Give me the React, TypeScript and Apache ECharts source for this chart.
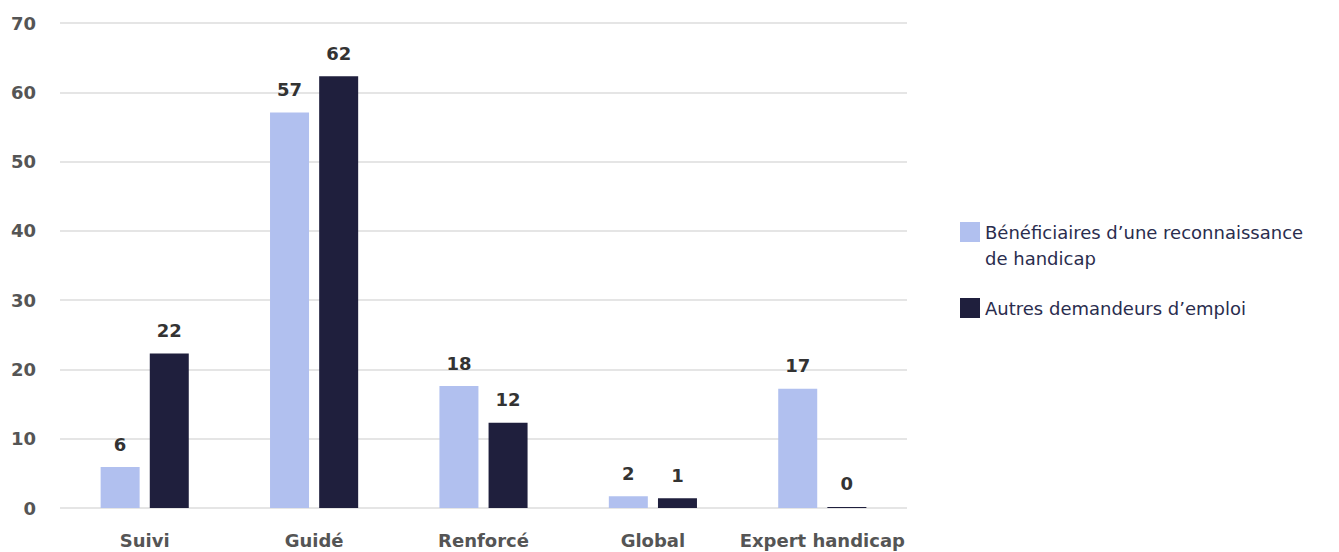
import React, { useEffect, useRef } from "react";
import * as echarts from "echarts";

const categories = ["Suivi", "Guidé", "Renforcé", "Global", "Expert handicap"];
const seriesNames = ["Bénéficiaires d’une reconnaissance de handicap", "Autres demandeurs d’emploi"];
const rqthValues = [5.9, 57.1, 17.6, 1.7, 17.2];
const autresValues = [22.3, 62.3, 12.3, 1.4, 0.15];
const yTicks = { min: 0, max: 70, interval: 10 };

const FONT = "'DejaVu Sans', 'Noto Sans', sans-serif";

export default function App() {
  const ref = useRef<HTMLDivElement>(null);
  useEffect(() => {
    if (!ref.current) return;
    const chart = echarts.init(ref.current, null, { renderer: "svg" });
    const label = {
      show: true,
      position: "top",
      distance: 14,
      color: "#333333",
      fontSize: 18,
      fontWeight: "bold",
      fontFamily: FONT,
      formatter: (p: any) => String(Math.round(p.value)),
    };
    chart.setOption({
      animation: false,
      textStyle: { fontFamily: FONT },
      grid: { left: 60, right: 432, top: 23, bottom: 44, containLabel: false },
      legend: {
        orient: "vertical",
        left: 955,
        top: 188,
        itemWidth: 20,
        itemHeight: 20,
        itemGap: 24,
        icon: "rect",
        formatter: (name: string) =>
          name === seriesNames[0] ? " \nBénéficiaires d’une reconnaissance\nde handicap" : name,
        textStyle: { color: "#2a2d4e", fontSize: 18, lineHeight: 26, fontFamily: FONT },
        data: seriesNames,
      },
      xAxis: {
        type: "category",
        data: categories,
        axisLine: { show: false },
        axisTick: { show: false },
        axisLabel: { color: "#555555", fontSize: 18, fontWeight: "bold", margin: 23, fontFamily: FONT, interval: 0 },
      },
      yAxis: {
        type: "value",
        min: yTicks.min,
        max: yTicks.max,
        interval: yTicks.interval,
        axisLine: { show: false },
        axisTick: { show: false },
        axisLabel: { color: "#555555", fontSize: 18, fontWeight: "bold", margin: 24, fontFamily: FONT },
        splitLine: { lineStyle: { color: "#dcdcdc", width: 1.5 } },
      },
      series: [
        {
          name: seriesNames[0],
          type: "bar",
          data: rqthValues,
          barWidth: 39,
          barGap: "26%",
          itemStyle: { color: "#b1c0ef" },
          label,
        },
        {
          name: seriesNames[1],
          type: "bar",
          data: autresValues,
          barWidth: 39,
          barGap: "26%",
          itemStyle: { color: "#1f1f3d" },
          label,
        },
      ],
    });
    return () => chart.dispose();
  }, []);
  return (
    <div
      ref={ref}
      style={{ position: "absolute", left: 0, top: 0, width: 1339, height: 552, background: "#ffffff" }}
    />
  );
}
